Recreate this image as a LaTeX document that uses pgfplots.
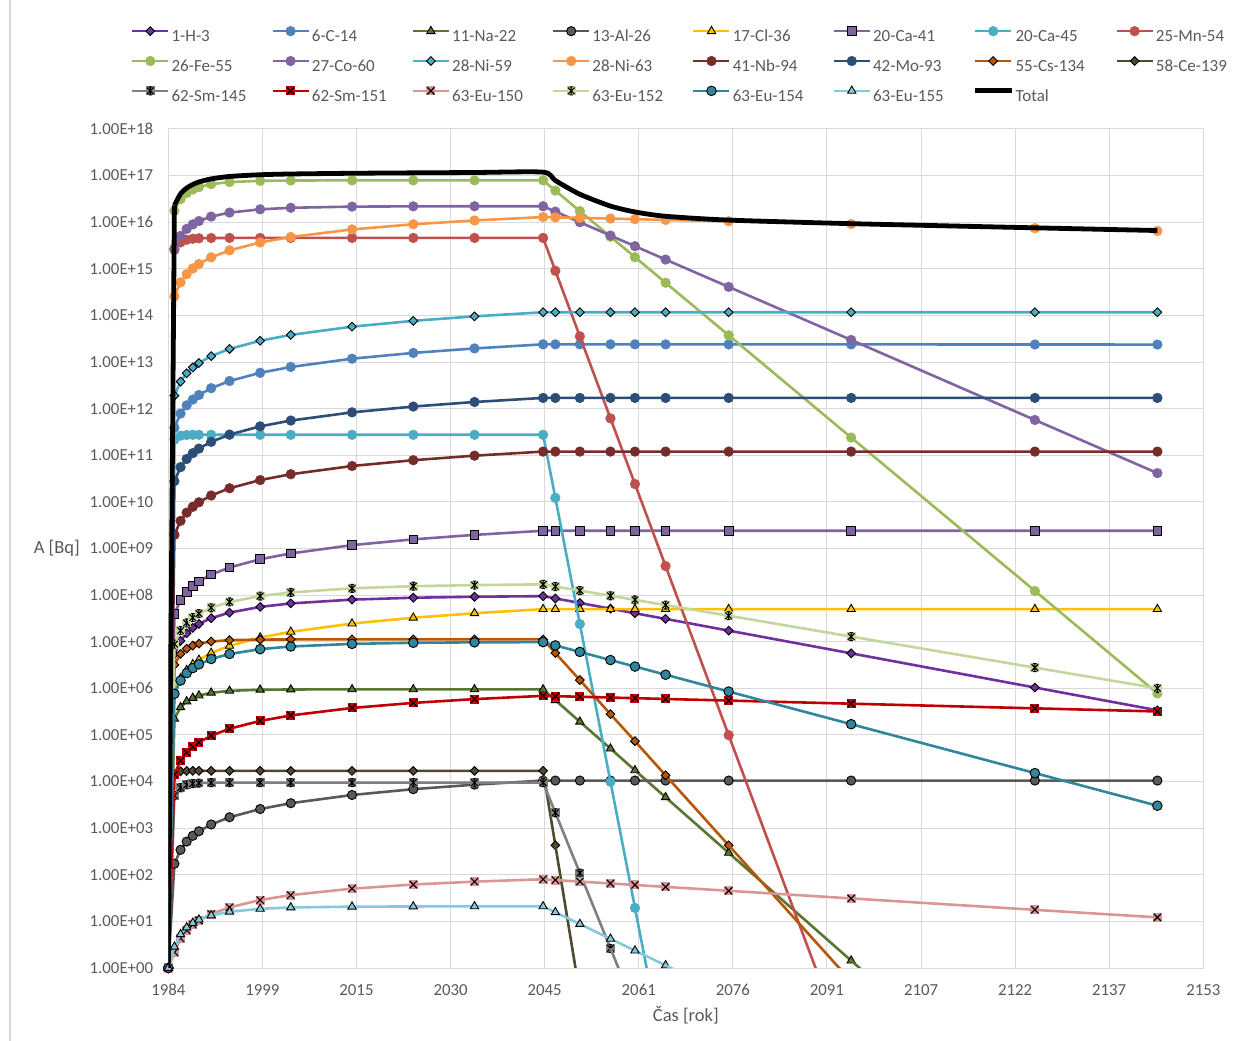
\documentclass[border=0pt]{standalone}
\usepackage{pgfplots}
\usepackage{pgfplotstable}
\pgfplotsset{compat=1.18}
\usepackage{fontspec}
\setmainfont{Carlito}
\newcommand{\lblfont}{\fontsize{16.8bp}{19bp}\selectfont}
\newcommand{\legfont}{\fontsize{17bp}{19bp}\selectfont}
\newcommand{\ttlfont}{\fontsize{18.5bp}{21bp}\selectfont}
\definecolor{txtgray}{HTML}{595959}
\definecolor{gridgray}{HTML}{D9D9D9}
\definecolor{cH3}{HTML}{7030A0}
\definecolor{cC14}{HTML}{4F81BD}
\definecolor{cNa22}{HTML}{5A7530}
\definecolor{cAl26}{HTML}{595959}
\definecolor{cCl36}{HTML}{FFC000}
\definecolor{cCa41}{HTML}{8064A2}
\definecolor{cCa45}{HTML}{4BACC6}
\definecolor{cMn54}{HTML}{C0504D}
\definecolor{cFe55}{HTML}{9BBB59}
\definecolor{cCo60}{HTML}{8064A2}
\definecolor{cNi59}{HTML}{4BACC6}
\definecolor{cNi63}{HTML}{F79646}
\definecolor{cNb94}{HTML}{772C2A}
\definecolor{cMo93}{HTML}{2C4D75}
\definecolor{cCs134}{HTML}{B65708}
\definecolor{cCe139}{HTML}{4F4A2E}
\definecolor{cSm145}{HTML}{7F7F7F}
\definecolor{cSm151}{HTML}{C00000}
\definecolor{cEu150}{HTML}{D99694}
\definecolor{cEu152}{HTML}{C3D69B}
\definecolor{cEu154}{HTML}{31859C}
\definecolor{cEu155}{HTML}{86C8DC}

\pgfdeclareplotmark{xbox}{%
  \pgfpathrectangle{\pgfqpoint{-\pgfplotmarksize}{-\pgfplotmarksize}}{\pgfqpoint{2\pgfplotmarksize}{2\pgfplotmarksize}}%
  \pgfusepathqfill
  \pgfpathmoveto{\pgfqpoint{-0.8\pgfplotmarksize}{-0.8\pgfplotmarksize}}%
  \pgfpathlineto{\pgfqpoint{0.8\pgfplotmarksize}{0.8\pgfplotmarksize}}%
  \pgfpathmoveto{\pgfqpoint{-0.8\pgfplotmarksize}{0.8\pgfplotmarksize}}%
  \pgfpathlineto{\pgfqpoint{0.8\pgfplotmarksize}{-0.8\pgfplotmarksize}}%
  \pgfusepathqstroke
}
\pgfdeclareplotmark{starbox}{%
  \pgfpathrectangle{\pgfqpoint{-\pgfplotmarksize}{-\pgfplotmarksize}}{\pgfqpoint{2\pgfplotmarksize}{2\pgfplotmarksize}}%
  \pgfusepathqfill
  \pgfpathmoveto{\pgfqpoint{-0.75\pgfplotmarksize}{-0.75\pgfplotmarksize}}%
  \pgfpathlineto{\pgfqpoint{0.75\pgfplotmarksize}{0.75\pgfplotmarksize}}%
  \pgfpathmoveto{\pgfqpoint{-0.75\pgfplotmarksize}{0.75\pgfplotmarksize}}%
  \pgfpathlineto{\pgfqpoint{0.75\pgfplotmarksize}{-0.75\pgfplotmarksize}}%
  \pgfpathmoveto{\pgfqpoint{0pt}{-0.9\pgfplotmarksize}}%
  \pgfpathlineto{\pgfqpoint{0pt}{0.9\pgfplotmarksize}}%
  \pgfpathmoveto{\pgfqpoint{-0.4\pgfplotmarksize}{-0.9\pgfplotmarksize}}%
  \pgfpathlineto{\pgfqpoint{0.4\pgfplotmarksize}{-0.9\pgfplotmarksize}}%
  \pgfpathmoveto{\pgfqpoint{-0.4\pgfplotmarksize}{0.9\pgfplotmarksize}}%
  \pgfpathlineto{\pgfqpoint{0.4\pgfplotmarksize}{0.9\pgfplotmarksize}}%
  \pgfusepathqstroke
}

\pgfplotstableread{
x H3 C14 Na22 Al26 Cl36 Ca41 Ca45 Mn54 Fe55 Co60 Ni59 Ni63 Nb94 Mo93 Cs134 Ce139 Sm145 Sm151 Eu150 Eu152 Eu154 Eu155 Total
1984 1 1 1 1 1 1 1 1 1 1 1 1 1 1 1 1 1 1 1 1 1 1 1
1985 5.37e6 3.92e11 2.22e5 172 8.17e5 3.92e7 2.17e11 2.55e15 1.76e16 2.71e15 1.91e12 2.57e14 1.96e9 2.78e10 3.19e6 1.43e4 4.99e3 1.41e4 2.18 8.87e6 7.64e5 2.85 2.31e16
1986 1.04e7 7.84e11 3.92e5 343 1.63e6 7.84e7 2.63e11 3.69e15 3.13e16 5.09e15 3.82e12 5.13e14 3.92e9 5.56e10 5.48e6 1.66e4 7.36e3 2.81e4 4.32 1.73e7 1.47e6 5.30 4.06e16
1987 1.52e7 1.18e12 5.23e5 515 2.45e6 1.18e8 2.72e11 4.2e15 4.2e16 7.17e15 5.74e12 7.66e14 5.88e9 8.33e10 7.11e6 1.69e4 8.48e3 4.2e4 6.42 2.53e7 2.12e6 7.42 5.41e16
1988 1.98e7 1.57e12 6.23e5 686 3.27e6 1.57e8 2.75e11 4.42e15 5.02e16 9.0e15 7.65e12 1.02e15 7.84e9 1.11e11 8.27e6 1.7e4 9.02e3 5.57e4 8.49 3.29e7 2.72e6 9.27 6.46e16
1989 2.41e7 1.96e12 6.99e5 858 4.08e6 1.96e8 2.75e11 4.52e15 5.67e16 1.06e16 9.56e12 1.27e15 9.8e9 1.39e11 9.11e6 1.7e4 9.27e3 6.93e4 10.5 4.02e7 3.27e6 10.9 7.31e16
1991 3.2e7 2.75e12 8.03e5 1201 5.72e6 2.75e8 2.75e11 4.58e15 6.55e16 1.32e16 1.34e13 1.76e15 1.37e10 1.94e11 1.01e7 1.7e4 9.45e3 9.64e4 14.4 5.35e7 4.26e6 13.4 8.5e16
1994 4.22e7 3.92e12 8.84e5 1716 8.17e6 3.92e8 2.75e11 4.6e15 7.27e16 1.61e16 1.91e13 2.49e15 1.96e10 2.78e11 1.08e7 1.7e4 9.5e3 1.36e5 20.0 7.12e7 5.46e6 16.1 9.59e16
1999 5.59e7 5.88e12 9.33e5 2574 1.23e7 5.88e8 2.75e11 4.6e15 7.72e16 1.89e16 2.87e13 3.68e15 2.94e10 4.17e11 1.11e7 1.7e4 9.5e3 2.0e5 28.7 9.53e7 6.92e6 18.6 1.044e17
2004 6.63e7 7.84e12 9.45e5 3431 1.63e7 7.84e8 2.75e11 4.6e15 7.85e16 2.04e16 3.82e13 4.82e15 3.92e10 5.56e11 1.12e7 1.7e4 9.5e3 2.62e5 36.7 1.14e8 7.9e6 19.9 1.083e17
2014 8.0e7 1.18e13 9.5e5 5147 2.45e7 1.18e9 2.75e11 4.6e15 7.9e16 2.16e16 5.74e13 7.0e15 5.88e10 8.33e11 1.12e7 1.7e4 9.5e3 3.79e5 50.4 1.40e8 8.99e6 20.7 1.122e17
2024 8.78e7 1.57e13 9.5e5 6863 3.27e7 1.57e9 2.75e11 4.6e15 7.9e16 2.19e16 7.65e13 9.03e15 7.84e10 1.11e12 1.12e7 1.7e4 9.5e3 4.87e5 61.8 1.55e8 9.48e6 20.9 1.145e17
2034 9.22e7 1.96e13 9.5e5 8578 4.08e7 1.96e9 2.75e11 4.6e15 7.9e16 2.2e16 9.56e13 1.09e16 9.8e10 1.39e12 1.12e7 1.7e4 9.5e3 5.87e5 71.3 1.64e8 9.7e6 21.0 1.165e17
2045.2 9.5e7 2.4e13 9.5e5 1.05e4 5.0e7 2.4e9 2.75e11 4.6e15 7.9e16 2.2e16 1.17e14 1.29e16 1.2e11 1.7e12 1.12e7 1.7e4 9.5e3 6.9e5 80 1.7e8 9.8e6 21.0 1.186e17
2047.2 8.49e7 2.4e13 5.57e5 1.05e4 5.0e7 2.4e9 1.22e10 9.09e14 4.77e16 1.69e16 1.17e14 1.27e16 1.2e11 1.7e12 5.72e6 429 2.14e3 6.79e5 77.0 1.53e8 8.34e6 15.7 7.83e16
2051.2 6.78e7 2.4e13 1.92e5 1.05e4 5.0e7 2.4e9 2.4e7 3.56e13 1.73e16 9.99e15 1.17e14 1.24e16 1.2e11 1.7e12 1.50e6 nan 109 6.59e5 71.5 1.25e8 6.04e6 8.77 3.98e16
2056.2 5.11e7 2.4e13 5.09e4 1.05e4 5.0e7 2.4e9 9.9e3 6.18e11 4.9e15 5.17e15 1.17e14 1.20e16 1.2e11 1.7e12 2.79e5 nan 2.64 6.34e5 65.1 9.68e7 4.04e6 4.23 2.22e16
2060.2 4.08e7 2.4e13 1.74e4 1.05e4 5.0e7 2.4e9 19.5 2.41e10 1.78e15 3.06e15 1.17e14 1.16e16 1.2e11 1.7e12 7.34e4 nan nan 6.15e5 60.4 7.88e7 2.93e6 2.36 1.66e16
2065.2 3.09e7 2.39e13 4.6e3 1.05e4 5.0e7 2.4e9 nan 4.2e8 5.03e14 1.58e15 1.17e14 1.12e16 1.2e11 1.7e12 1.36e4 nan nan 5.91e5 55.0 6.11e7 1.96e6 1.14 1.34e16
2075.5 1.73e7 2.39e13 296 1.05e4 5.0e7 2.4e9 nan 9.9e4 3.75e13 4.1e14 1.17e14 1.05e16 1.2e11 1.7e12 428 nan nan 5.46e5 45.3 3.61e7 8.53e5 nan 1.11e16
2095.5 5.63e6 2.39e13 1.44 1.05e4 5.0e7 2.4e9 nan nan 2.4e11 2.98e13 1.17e14 9.14e15 1.2e11 1.7e12 nan nan nan 4.68e5 31.1 1.29e7 1.70e5 nan 9.31e15
2125.5 1.04e6 2.38e13 nan 1.05e4 5.0e7 2.4e9 nan nan 1.23e8 5.72e11 1.17e14 7.44e15 1.2e11 1.7e12 nan nan nan 3.72e5 17.7 2.78e6 1.52e4 nan 7.58e15
2145.5 3.38e5 2.37e13 nan 1.05e4 5.0e7 2.4e9 nan nan 7.8e5 4.14e10 1.17e14 6.49e15 1.2e11 1.7e12 nan nan nan 3.19e5 12.2 1.0e6 3.03e3 nan 6.63e15
}\data

\newcommand{\lgent}[1]{\addlegendentry{\makebox[99.7bp][l]{#1}}}

\begin{document}
\begin{tikzpicture}
\path[use as bounding box] (0,0) rectangle (1237bp,1041bp);
\draw[gridgray, line width=1.2bp] (10bp,0) -- (10bp,1041bp);
\begin{axis}[
  at={(168.3bp,73bp)}, anchor=south west,
  scale only axis, width=1035bp, height=839bp,
  xmin=1984, xmax=2153, ymin=1, ymax=1e18, ymode=log,
  xtick={1984,1999.3636,2014.7273,2030.0909,2045.4545,2060.8182,2076.1818,2091.5455,2106.9091,2122.2727,2137.6364,2153},
  xticklabels={1984,1999,2015,2030,2045,2061,2076,2091,2107,2122,2137,2153},
  ytick={1,10,100,1e3,1e4,1e5,1e6,1e7,1e8,1e9,1e10,1e11,1e12,1e13,1e14,1e15,1e16,1e17,1e18},
  yticklabels={1.00E+00,1.00E+01,1.00E+02,1.00E+03,1.00E+04,1.00E+05,1.00E+06,1.00E+07,1.00E+08,1.00E+09,1.00E+10,1.00E+11,1.00E+12,1.00E+13,1.00E+14,1.00E+15,1.00E+16,1.00E+17,1.00E+18},
  yminorticks=false, xminorticks=false,
  grid=major, major grid style={draw=gridgray, line width=1bp},
  axis line style={draw=gridgray, line width=1bp},
  major tick length=0pt, minor tick length=0pt,
  tick label style={font=\lblfont, text=txtgray, inner sep=0pt},
  yticklabel style={xshift=-15bp},
  xticklabel style={yshift=-16bp},
  clip mode=individual,
  xlabel={Čas [rok]}, ylabel={A [Bq]},
  every axis x label/.style={at={(axis description cs:0.5,-0.056)}, anchor=center, inner sep=0pt, font=\ttlfont, text=txtgray},
  every axis y label/.style={at={(axis description cs:-0.0853,0.5)}, anchor=east, inner sep=0pt, font=\ttlfont, text=txtgray},
  legend columns=8,
  legend cell align=left,
  legend style={draw=none, fill=none, inner sep=0pt, outer sep=0pt,
    at={(axis description cs:-0.03604,1.1223)}, anchor=north west,
    font=\legfont, text=txtgray, row sep=13.1bp,
    nodes={inner sep=0pt, text=txtgray},
    /tikz/every odd column/.style={column sep=2bp},
    /tikz/every even column/.style={column sep=0bp}},
  legend image code/.code={\draw[mark repeat=2,mark phase=2,#1] plot coordinates {(0bp,5.3bp) (18bp,5.3bp) (36bp,5.3bp)};},
  every axis plot/.append style={line width=2.6bp},
]
% 1-H-3
\addplot[cH3, mark=square*, mark size=3.1bp, mark options={solid, rotate=45, fill=cH3, draw=black, line width=0.9bp}] table[x=x,y=H3]{\data}; \lgent{1-H-3}
% 6-C-14
\addplot[cC14, mark=*, mark size=4.8bp, mark options={solid, fill=cC14, draw=cC14, line width=0.6bp}] table[x=x,y=C14]{\data}; \lgent{6-C-14}
% 11-Na-22
\addplot[cNa22, mark=triangle*, mark size=4.8bp, mark options={solid, fill=cNa22, draw=black, line width=0.9bp}] table[x=x,y=Na22]{\data}; \lgent{11-Na-22}
\addplot[cNa22, no markers, forget plot] coordinates {(2095.5,1.44) (2125.5,4.9e-4)};
% 13-Al-26
\addplot[cAl26, mark=*, mark size=4.6bp, mark options={solid, fill=cAl26, draw=black, line width=0.9bp}] table[x=x,y=Al26]{\data}; \lgent{13-Al-26}
% 17-Cl-36
\addplot[cCl36, mark=triangle*, mark size=4.8bp, mark options={solid, fill=cCl36, draw=black, line width=0.9bp}] table[x=x,y=Cl36]{\data}; \lgent{17-Cl-36}
% 20-Ca-41
\addplot[cCa41, mark=square*, mark size=4.3bp, mark options={solid, fill=cCa41, draw=black, line width=0.9bp}] table[x=x,y=Ca41]{\data}; \lgent{20-Ca-41}
% 20-Ca-45
\addplot[cCa45, mark=*, mark size=4.8bp, mark options={solid, fill=cCa45, draw=cCa45, line width=0.6bp}] table[x=x,y=Ca45]{\data}; \lgent{20-Ca-45}
\addplot[cCa45, no markers, forget plot] coordinates {(2060.2,19.5) (2065.2,8.1e-3)};
% 25-Mn-54
\addplot[cMn54, mark=*, mark size=4.8bp, mark options={solid, fill=cMn54, draw=cMn54, line width=0.6bp}] table[x=x,y=Mn54]{\data}; \lgent{25-Mn-54}
\addplot[cMn54, no markers, forget plot] coordinates {(2075.5,9.9e4) (2095.5,9.0e-3)};
% 26-Fe-55
\addplot[cFe55, mark=*, mark size=4.8bp, mark options={solid, fill=cFe55, draw=cFe55, line width=0.6bp}] table[x=x,y=Fe55]{\data}; \lgent{26-Fe-55}
% 27-Co-60
\addplot[cCo60, mark=*, mark size=4.8bp, mark options={solid, fill=cCo60, draw=cCo60, line width=0.6bp}] table[x=x,y=Co60]{\data}; \lgent{27-Co-60}
% 28-Ni-59
\addplot[cNi59, mark=square*, mark size=3.1bp, mark options={solid, rotate=45, fill=cNi59, draw=black, line width=0.9bp}] table[x=x,y=Ni59]{\data}; \lgent{28-Ni-59}
% 28-Ni-63
\addplot[cNi63, mark=*, mark size=4.8bp, mark options={solid, fill=cNi63, draw=cNi63, line width=0.6bp}] table[x=x,y=Ni63]{\data}; \lgent{28-Ni-63}
% 41-Nb-94
\addplot[cNb94, mark=*, mark size=4.8bp, mark options={solid, fill=cNb94, draw=cNb94, line width=0.6bp}] table[x=x,y=Nb94]{\data}; \lgent{41-Nb-94}
% 42-Mo-93
\addplot[cMo93, mark=*, mark size=4.8bp, mark options={solid, fill=cMo93, draw=cMo93, line width=0.6bp}] table[x=x,y=Mo93]{\data}; \lgent{42-Mo-93}
% 55-Cs-134
\addplot[cCs134, mark=square*, mark size=3.1bp, mark options={solid, rotate=45, fill=cCs134, draw=black, line width=0.9bp}] table[x=x,y=Cs134]{\data}; \lgent{55-Cs-134}
\addplot[cCs134, no markers, forget plot] coordinates {(2075.5,428) (2095.5,0.52)};
% 58-Ce-139
\addplot[cCe139, mark=square*, mark size=3.1bp, mark options={solid, rotate=45, fill=cCe139, draw=black, line width=0.9bp}] table[x=x,y=Ce139]{\data}; \lgent{58-Ce-139}
\addplot[cCe139, no markers, forget plot] coordinates {(2047.2,429) (2051.2,0.27)};
% 62-Sm-145
\addplot[cSm145, mark=starbox, mark size=4.4bp, mark options={solid, fill=cSm145, draw=black, line width=1.1bp}] table[x=x,y=Sm145]{\data}; \lgent{62-Sm-145}
\addplot[cSm145, no markers, forget plot] coordinates {(2056.2,2.64) (2060.2,0.134)};
% 62-Sm-151
\addplot[cSm151, mark=xbox, mark size=4.5bp, mark options={solid, fill=cSm151, draw=black, line width=1.1bp}] table[x=x,y=Sm151]{\data}; \lgent{62-Sm-151}
% 63-Eu-150
\addplot[cEu150, mark=xbox, mark size=4.5bp, mark options={solid, fill=cEu150, draw=black, line width=1.1bp}] table[x=x,y=Eu150]{\data}; \lgent{63-Eu-150}
% 63-Eu-152
\addplot[cEu152, mark=starbox, mark size=4.4bp, mark options={solid, fill=cEu152, draw=black, line width=1.1bp}] table[x=x,y=Eu152]{\data}; \lgent{63-Eu-152}
% 63-Eu-154
\addplot[cEu154, mark=*, mark size=4.8bp, mark options={solid, fill=cEu154, draw=black, line width=0.9bp}] table[x=x,y=Eu154]{\data}; \lgent{63-Eu-154}
% 63-Eu-155
\addplot[cEu155, mark=triangle*, mark size=4.8bp, mark options={solid, fill=cEu155, draw=black, line width=0.9bp}] table[x=x,y=Eu155]{\data}; \lgent{63-Eu-155}
\addplot[cEu155, no markers, forget plot] coordinates {(2065.2,1.14) (2075.5,0.256)};
% Total
\addplot[black, line width=4.8bp, no markers, line join=round, forget plot] coordinates {(1984,1) (1985,2.31e16)};
\addplot[black, line width=4.8bp, no markers, smooth, tension=0.4, line join=round, skip coords between index={0}{1}] table[x=x,y=Total]{\data}; \lgent{Total}
\end{axis}
\end{tikzpicture}
\end{document}
